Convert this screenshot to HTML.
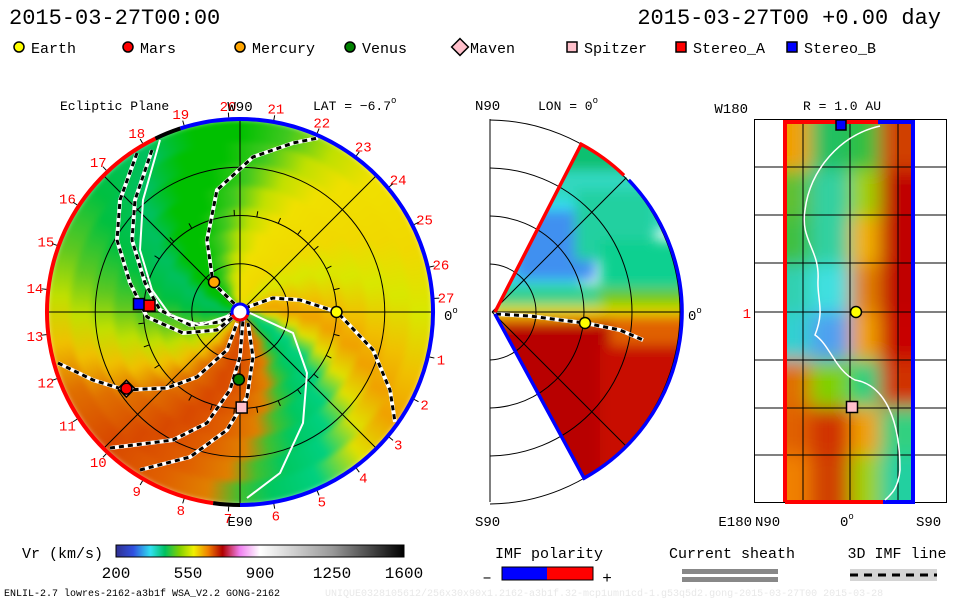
<!DOCTYPE html>
<html><head><meta charset="utf-8">
<style>
html,body{margin:0;padding:0;background:#fff;}
#wrap{position:relative;width:960px;height:600px;overflow:hidden;font-family:"Liberation Mono",monospace;}
#disk{position:absolute;left:47px;top:119px;width:386px;height:386px;border-radius:50%;overflow:hidden;}
#disk .blur{position:absolute;left:0;top:0;width:386px;height:386px;filter:blur(3px);}
#disk .ring{position:absolute;border-radius:50%;}
svg{position:absolute;left:0;top:0;}
text{font-family:"Liberation Mono",monospace;}
</style></head>
<body>
<div id="wrap">
<div id="disk"><div class="blur" id="blur"></div></div>
<svg id="svg" width="960" height="600" viewBox="0 0 960 600">
<defs>
<clipPath id="rpclip"><rect x="786" y="122" width="128" height="380"/></clipPath>
<filter id="bl" x="-20%" y="-20%" width="140%" height="140%"><feGaussianBlur stdDeviation="9"/></filter>
<filter id="bl2" x="-20%" y="-20%" width="140%" height="140%"><feGaussianBlur stdDeviation="6"/></filter>
<linearGradient id="cbar" x1="0" x2="1" y1="0" y2="0">
<stop offset="0" stop-color="#303090"/><stop offset="0.06" stop-color="#3050e0"/><stop offset="0.12" stop-color="#30e0f0"/>
<stop offset="0.17" stop-color="#00c060"/><stop offset="0.22" stop-color="#80d000"/><stop offset="0.27" stop-color="#f0f000"/>
<stop offset="0.32" stop-color="#f08000"/><stop offset="0.37" stop-color="#b00000"/><stop offset="0.43" stop-color="#f080f0"/>
<stop offset="0.5" stop-color="#ffffff"/><stop offset="0.75" stop-color="#999"/><stop offset="1" stop-color="#000"/>
</linearGradient>
<clipPath id="wedgeclip"><path id="wedgepath" d=""/></clipPath>
</defs>
<g id="g"></g>
</svg>
</div>
<script>
// ---------- data ----------
const planetNames = ["Earth","Mars","Mercury","Venus","Maven","Spitzer","Stereo_A","Stereo_B"];
const planetR_AU  = [1.0, 1.42, 0.41, 0.70, 1.42, 0.99, 0.94, 1.05];
const planetLonDeg= [0, 214, 131, 269, 214, 271, 176, 175.5];
const planetFill  = ["#ffff00","#ff0000","#ffa500","#008000","#ffc0cb","#ffc0cb","#ff0000","#0000ff"];
const planetShape = ["circle","circle","circle","circle","diamond","square","square","square"];
const cbarTicks = [200,550,900,1250,1600];
const rimAngles = [0,15,30,45,70,90,110,125,140,155,170,180,190,205,225,245,260,275,290,310,330,345,360];
const rimColors = ["#00c000","#40c820","#c0e000","#f0e000","#f0d800","#d8e800","#f0c000","#f0a000","#e0e000","#00d080","#00c860","#40c030","#e08000","#e06000","#d84800","#e07000","#f0c000","#c0e000","#60c820","#00c040","#00c060","#00c000","#00c000"];
const carrLabels = [0,1,2,3,4,5,6,7,8,9,10,11,12,13,14,15,16,17,18,19,20,21,22,23,24,25,26,27];
const rpColors = [
 ["#f0a000","#20c060","#30c040","#d04000"],
 ["#60c030","#30d0a0","#a0d000","#c00000"],
 ["#40c040","#30d0a0","#f0b000","#c00000"],
 ["#30d0b0","#40e0e0","#e08000","#c00000"],
 ["#30d0d0","#50a0f0","#f0a000","#c80000"],
 ["#e07000","#80d000","#20d080","#d03000"],
 ["#e06000","#d03000","#f0a000","#30d080"],
 ["#f08000","#d04000","#a0d000","#20d0a0"]];

// ---------- geometry ----------
const CX=240, CY=312, AU=96.5;
const xp=(r,a)=>CX+r*AU*Math.cos(a*Math.PI/180);
const yp=(r,a)=>CY-r*AU*Math.sin(a*Math.PI/180);
const NS="http://www.w3.org/2000/svg";
const G=document.getElementById('g');
function el(tag,attrs,parent){const e=document.createElementNS(NS,tag);for(const k in attrs)e.setAttribute(k,attrs[k]);(parent||G).appendChild(e);return e;}
function txt(x,y,s,size,fill,anchor,name){const t=el('text',{x:x,y:y,'font-size':size,fill:fill||'#000','text-anchor':anchor||'start'});t.textContent=s;


return t;}
function sup(t,s,size){const ts=document.createElementNS(NS,'tspan');ts.setAttribute('dy','-7');ts.setAttribute('font-size',size||10);ts.textContent=s;t.appendChild(ts);return t;}

// ---------- disk (spiral conic rings) ----------
const stops=rimAngles.map((a,i)=>rimColors[i]+' '+a+'deg').join(',');
const blur=document.getElementById('blur');
const rings=[[193,0],[170,-6],[148,-12],[126,-18],[104,-24],[82,-30],[60,-36],[40,-42],[22,-48]];
rings.forEach(([r,d])=>{const dv=document.createElement('div');dv.className='ring';
 dv.style.left=(193-r)+'px';dv.style.top=(193-r)+'px';dv.style.width=2*r+'px';dv.style.height=2*r+'px';
 dv.style.background='conic-gradient(from '+d+'deg at 50% 50%,'+stops+')';
 
 
 blur.appendChild(dv);});

[0.5,1,1.5].forEach(r=>{const c=el('circle',{cx:CX,cy:CY,r:r*AU,fill:'none',stroke:'#000','stroke-width':1});

});
[0,45,90,135].forEach(a=>{const l=el('line',{x1:xp(2,a),y1:yp(2,a),x2:xp(2,a+180),y2:yp(2,a+180),stroke:'#000','stroke-width':1});

});
for(let a=0;a<360;a+=13.33){const t=el('line',{x1:xp(1,a),y1:yp(1,a),x2:xp(1.06,a),y2:yp(1.06,a),stroke:'#000','stroke-width':1});

}

function poly(pts,name,white){
 const d='M'+pts.map(p=>p.join(',')).join(' L');
 if(white){const p=el('path',{d:d,fill:'none',stroke:'#fff','stroke-width':2});return;}
 const b=el('path',{d:d,fill:'none',stroke:'#fff','stroke-width':4});
 
 
 const f=el('path',{d:d,fill:'none',stroke:'#000','stroke-width':3,'stroke-dasharray':'5,4'});
 
 }
poly([[241,310],[213,283],[207,240],[217,190],[253,157],[293,143],[318,138]],'imf-line-mercury');
poly([[245,308],[273,298],[300,300],[337,312],[373,350],[390,390],[395,422]],'imf-line-earth');
poly([[58,363],[93,380],[125,390],[167,388],[197,377],[227,350],[237,323]],'imf-line-mars');
poly([[110,448],[173,440],[207,423],[230,390],[240,357],[243,320]],'imf-line-venus');
poly([[140,470],[190,457],[227,430],[247,397],[253,357],[248,323]],'imf-line-spitzer');
poly([[137,153],[120,200],[117,240],[130,283],[147,317],[183,333],[217,330],[233,317]],'imf-line-stereo-1');
poly([[152,150],[135,200],[132,240],[145,283],[160,310],[190,325],[220,322],[237,310]],'imf-line-stereo-2');
poly([[160,140],[143,200],[140,250],[152,290],[170,315],[200,325],[230,315]],'current-sheath-nw',true);
poly([[250,313],[293,333],[307,373],[303,423],[280,473],[247,498]],'current-sheath-se',true);

function arc(r,a1,a2,col,w,name){const p=el('path',{d:`M${xp(r,a1)},${yp(r,a1)} A${r*AU},${r*AU} 0 ${Math.abs(a2-a1)>180?1:0},0 ${xp(r,a2)},${yp(r,a2)}`,fill:'none',stroke:col,'stroke-width':w});
}
arc(2.0,116,262,'#ff0000',4,'polarity-arc-positive');
arc(2.0,262,270,'#000',4,'polarity-sector-boundary');
arc(2.0,-90,108,'#0000ff',4,'polarity-arc-negative');
arc(2.0,108,116,'#000',4,'polarity-sector-boundary');
el('circle',{cx:CX,cy:CY,r:8,fill:'#fff',stroke:'#0000ff','stroke-width':3});
arc(0.083,200,340,'#ff0000',3,'sun-positive');

function marker(x,y,shape,fill,s,name){let m;
 if(shape==='circle')m=el('circle',{cx:x,cy:y,r:s,fill:fill,stroke:'#000','stroke-width':1.5});
 else if(shape==='square')m=el('rect',{x:x-s,y:y-s,width:2*s,height:2*s,fill:fill,stroke:'#000','stroke-width':1.5});
 else m=el('path',{d:`M${x},${y-s*1.4} L${x+s*1.4},${y} L${x},${y+s*1.4} L${x-s*1.4},${y}Z`,fill:fill,stroke:'#000','stroke-width':1.5});
 
 }
const order=[4,1,0,2,3,5,7,6];
order.forEach(i=>{const x=xp(planetR_AU[i],planetLonDeg[i]),y=yp(planetR_AU[i],planetLonDeg[i]);
 marker(x,y,planetShape[i],planetFill[i],planetShape[i]==='diamond'?6:5.5,planetNames[i].toLowerCase()+'-marker');});

carrLabels.forEach(k=>{let a=-k*360/27; if(k===27)a=4; const R=2.14;
 if(k===0)return; const x=xp(R,a),y=yp(R,a)+5;
 txt(x,y,String(k),14,'#ff0000','middle','carrington-label-'+k);
 const tk=el('line',{x1:xp(2.02,a),y1:yp(2.02,a),x2:xp(2.07,a),y2:yp(2.07,a),stroke:'#000','stroke-width':1});
 
 });
txt(240,111,'W90',14,'#000','middle','w90-label');
txt(240,526,'E90',14,'#000','middle','e90-label');
sup(txt(444,320,'0',14,'#000','start','zero-lon-label'),'o',9);
txt(60,110,'Ecliptic Plane',13,'#000','start','ecliptic-plane-title');
sup(txt(313,110,'LAT = −6.7',13,'#000','start','lat-title'),'o',9);

// ---------- middle panel ----------
const MX=492, MY=312, MR=190;
const mxp=(r,a)=>MX+r*Math.cos(a*Math.PI/180), myp=(r,a)=>MY-r*Math.sin(a*Math.PI/180);
const wedgeD=`M${MX+3},${MY} L${mxp(MR,62)},${myp(MR,62)} A${MR},${MR} 0 0,1 ${mxp(MR,-61)},${myp(MR,-61)} Z`;
document.getElementById('wedgepath').setAttribute('d',wedgeD);
const wg=el('g',{'clip-path':'url(#wedgeclip)'});


const mg=el('g',{filter:'url(#bl2)'},wg);
[[470,100,240,80,'#10c070'],[470,170,240,60,'#30d8c0'],[490,200,90,100,'#30e0f0'],[515,210,80,70,'#4090f0'],[575,190,80,70,'#20d0a0'],[600,240,90,50,'#10d090'],[490,285,200,20,'#30d090'],[600,290,90,20,'#70c800'],[490,305,220,10,'#d8e000'],[490,314,220,10,'#f09000'],[600,318,100,30,'#e06000'],[470,322,140,200,'#b80000'],[600,345,100,150,'#c81000']].forEach(r=>{
 const q=el('rect',{x:r[0],y:r[1],width:r[2],height:r[3],fill:r[4]},mg);
 });
const mf=el('line',{x1:490,y1:119,x2:490,y2:502,stroke:'#000','stroke-width':1});

[48,96,144,192].forEach(r=>{
 const p=el('path',{d:`M490,${MY-Math.sqrt(r*r-4)} A${r},${r} 0 0,1 490,${MY+Math.sqrt(r*r-4)}`,fill:'none',stroke:'#000','stroke-width':1});
 });
[[0],[45],[-45]].forEach(([a])=>{const l=el('line',{x1:MX,y1:MY,x2:mxp(MR,a),y2:myp(MR,a),stroke:'#000','stroke-width':1});
});
poly([[496,314],[530,316],[560,320],[585,323],[620,330],[643,340]],'imf-line-meridional');
const wr=el('path',{d:`M${MX+3},${MY} L${mxp(MR,62)},${myp(MR,62)} A${MR},${MR} 0 0,1 ${mxp(MR,46)},${myp(MR,46)}`,fill:'none',stroke:'#ff0000','stroke-width':3.5});

const wb=el('path',{d:`M${mxp(MR,44)},${myp(MR,44)} A${MR},${MR} 0 0,1 ${mxp(MR,-61)},${myp(MR,-61)} L${MX+3},${MY+2}`,fill:'none',stroke:'#0000ff','stroke-width':3.5});

marker(585,323,'circle','#ffff00',5.5,'earth-marker-meridional');
txt(475,110,'N90',14,'#000','start','n90-label');
sup(txt(538,110,'LON = 0',13,'#000','start','lon-title'),'o',9);
txt(475,526,'S90',14,'#000','start','s90-label');
sup(txt(688,320,'0',14,'#000','start','meridional-zero'),'o',9);

// ---------- right panel ----------
const rg=el('g',{'clip-path':'url(#rpclip)'});

const rgi=el('g',{filter:'url(#bl)'},rg);
const colX=[740,810,850,880,960], rowH=47.5;
rpColors.forEach((row,ri)=>row.forEach((c,ci)=>{
 const y0=ri===0?80:122+ri*rowH, y1=ri===7?560:122+(ri+1)*rowH;
 const q=el('rect',{x:colX[ci],y:y0,width:colX[ci+1]-colX[ci],height:y1-y0,fill:c},rgi);
 }));
const rf=el('rect',{x:754.5,y:119.5,width:192,height:383,fill:'none',stroke:'#000','stroke-width':1});

[803,850,898].forEach(x=>{const l=el('line',{x1:x,y1:120,x2:x,y2:502,stroke:'#000'});});
[167,215,263,312,360,408,455].forEach(y=>{const l=el('line',{x1:755,y1:y,x2:946,y2:y,stroke:'#000'});});
const rr1=el('path',{d:'M785,502 L785,122 L878,122',fill:'none',stroke:'#ff0000','stroke-width':4});

const rr2=el('path',{d:'M878,122 L913,122 L913,502 L883,502',fill:'none',stroke:'#0000ff','stroke-width':4});

const rr3=el('path',{d:'M883,502 L785,502',fill:'none',stroke:'#ff0000','stroke-width':4});

const ws=el('path',{d:'M880,126 C840,135 810,170 805,210 C800,240 820,250 818,280 C817,300 825,310 815,335 C830,345 835,370 855,380 C885,385 900,420 900,470 C898,490 890,495 885,500',fill:'none',stroke:'#fff','stroke-width':1.5});

marker(841,125,'square','#0000ff',5,'stereo-b-marker-map');
marker(856,312,'circle','#ffff00',5.5,'earth-marker-map');
marker(852,407,'square','#ffc0cb',5.5,'spitzer-marker-map');
txt(748,113,'W180',14,'#000','end','w180-label');
txt(803,110,'R = 1.0 AU',13,'#000','start','r-title');
txt(751,318,'1',14,'#ff0000','end','r1-label');
txt(752,526,'E180',14,'#000','end','e180-label');
txt(755,526,'N90',14,'#000','start','map-n90');
sup(txt(840,526,'0',14,'#000','start','map-zero'),'o',9);
txt(916,526,'S90',14,'#000','start','map-s90');

// ---------- header ----------
txt(9,24,'2015-03-27T00:00',22,'#000','start','date-title-left');
txt(941,24,'2015-03-27T00 +0.00 day',22,'#000','end','date-title-right');
const legX=[19,128,240,350,460,572,681,792];
legX.forEach((x,i)=>{const shape=planetShape[i];
 marker(x,47,shape,planetFill[i],shape==='diamond'?6:5,'legend-marker-'+planetNames[i].toLowerCase());
 txt(x+(shape==='diamond'?10:12),53,planetNames[i],15,'#000','start','legend-label-'+planetNames[i].toLowerCase());});

// ---------- colorbar ----------
const cbX0=116,cbX1=404;
const cb=el('rect',{x:cbX0,y:545,width:cbX1-cbX0,height:12,fill:'url(#cbar)',stroke:'#000','stroke-width':1});

const cbx=v=>cbX0+(v-cbarTicks[0])/(cbarTicks[cbarTicks.length-1]-cbarTicks[0])*(cbX1-cbX0);
cbarTicks.forEach(v=>txt(cbx(v),578,String(v),16,'#000','middle','colorbar-tick-'+v));
txt(22,558,'Vr (km/s)',15,'#000','start','colorbar-title');
txt(549,558,'IMF polarity',15,'#000','middle','imf-polarity-title');
const b1=el('rect',{x:502,y:567,width:45,height:13,fill:'#0000ff'});
const b2=el('rect',{x:547,y:567,width:46,height:13,fill:'#ff0000'});
const b3=el('rect',{x:502,y:567,width:91,height:13,fill:'none',stroke:'#000'});
txt(487,582,'–',16,'#000','middle','minus-sign');
txt(607,583,'+',16,'#000','middle','plus-sign');
txt(732,558,'Current sheath',15,'#000','middle','current-sheath-title');
[569,577].forEach(y=>{const r=el('rect',{x:682,y:y,width:96,height:5,fill:'#888'});});
txt(897,558,'3D IMF line',15,'#000','middle','imf-line-title');
const s1=el('rect',{x:850,y:569,width:87,height:12,fill:'#d4d4d4'});
const s2=el('line',{x1:850,y1:575,x2:937,y2:575,stroke:'#000','stroke-width':3,'stroke-dasharray':'8,6'});
txt(4,596,'ENLIL-2.7 lowres-2162-a3b1f WSA_V2.2 GONG-2162',10,'#000','start','model-info');
txt(325,596,'UNIQUE0328105612/256x30x90x1.2162-a3b1f.32-mcp1umn1cd-1.g53q5d2.gong-2015-03-27T00  2015-03-28',10,'#e8e8e8','start','run-id');
</script>
</body></html>
